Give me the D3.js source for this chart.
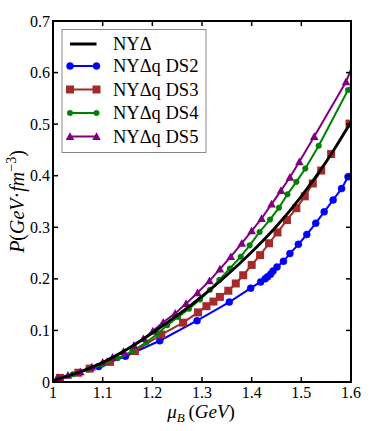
<!DOCTYPE html>
<html><head><meta charset="utf-8">
<script src="https://cdn.jsdelivr.net/npm/d3@7"></script>
<style>
html,body{margin:0;padding:0;background:#fff;}
svg{display:block;}
</style></head>
<body>
<svg id="chart" width="374" height="431" font-family="'Liberation Serif', 'DejaVu Serif', serif"></svg>
<script>
// ---- data ----
const xTicks = [1.0, 1.1, 1.2, 1.3, 1.4, 1.5, 1.6];
const xTickLabels = ["1", "1.1", "1.2", "1.3", "1.4", "1.5", "1.6"];
const yTicks = [0, 0.1, 0.2, 0.3, 0.4, 0.5, 0.6, 0.7];
const yTickLabels = ["0", "0.1", "0.2", "0.3", "0.4", "0.5", "0.6", "0.7"];

const nyMu = [1.00, 1.05, 1.10, 1.15, 1.20, 1.25, 1.30, 1.35, 1.40, 1.45, 1.50, 1.55, 1.60];
const nyP  = [0.003, 0.018, 0.038, 0.064, 0.095, 0.129, 0.166, 0.207, 0.252, 0.302, 0.360, 0.427, 0.504];

const ds2Mu = [1.012, 1.092, 1.146, 1.215, 1.290, 1.355, 1.398, 1.418, 1.427, 1.432, 1.438, 1.443, 1.451, 1.464, 1.477, 1.494, 1.511, 1.529, 1.546, 1.564, 1.581, 1.594, 1.600];
const ds2P  = [0.008, 0.030, 0.050, 0.080, 0.119, 0.155, 0.182, 0.194, 0.200, 0.204, 0.209, 0.215, 0.223, 0.234, 0.249, 0.267, 0.286, 0.308, 0.330, 0.353, 0.375, 0.398, 0.406];

const ds3Mu = [1.014, 1.051, 1.074, 1.115, 1.165, 1.218, 1.262, 1.292, 1.309, 1.323, 1.336, 1.353, 1.368, 1.383, 1.400, 1.417, 1.435, 1.452, 1.471, 1.490, 1.507, 1.523, 1.540, 1.560, 1.597, 1.600];
const ds3P  = [0.008, 0.018, 0.026, 0.039, 0.060, 0.092, 0.115, 0.135, 0.147, 0.156, 0.165, 0.177, 0.191, 0.207, 0.227, 0.246, 0.269, 0.290, 0.314, 0.337, 0.360, 0.385, 0.410, 0.442, 0.501, 0.506];

const ds4Mu = [1.012, 1.040, 1.070, 1.100, 1.130, 1.160, 1.188, 1.210, 1.230, 1.252, 1.274, 1.296, 1.316, 1.335, 1.356, 1.378, 1.396, 1.416, 1.437, 1.455, 1.472, 1.490, 1.508, 1.535, 1.594, 1.600];
const ds4P  = [0.008, 0.015, 0.024, 0.034, 0.046, 0.060, 0.077, 0.093, 0.110, 0.126, 0.142, 0.160, 0.179, 0.198, 0.220, 0.243, 0.265, 0.291, 0.315, 0.338, 0.364, 0.388, 0.414, 0.458, 0.566, 0.573];

const ds5Mu = [1.010, 1.030, 1.055, 1.078, 1.100, 1.120, 1.142, 1.163, 1.182, 1.201, 1.222, 1.246, 1.268, 1.291, 1.315, 1.336, 1.358, 1.380, 1.400, 1.420, 1.440, 1.459, 1.477, 1.496, 1.526, 1.590, 1.600];
const ds5P  = [0.008, 0.013, 0.020, 0.029, 0.038, 0.048, 0.059, 0.071, 0.084, 0.099, 0.116, 0.133, 0.152, 0.173, 0.196, 0.219, 0.243, 0.269, 0.293, 0.317, 0.345, 0.371, 0.397, 0.427, 0.476, 0.582, 0.606];

const seriesNames = ["NY\u0394", "NY\u0394q DS2", "NY\u0394q DS3", "NY\u0394q DS4", "NY\u0394q DS5"];
const seriesColors = ["#000000", "#0000ff", "#a52a2a", "#008000", "#800080"];
const seriesMarkers = ["none", "circle", "square", "smallcircle", "triangle"];

// ---- chart ----
const svg = d3.select("#chart");
const L = 53, R = 351, T = 21, B = 382;
const x = d3.scaleLinear().domain([1.0, 1.6]).range([L, R]);
const y = d3.scaleLinear().domain([0, 0.7]).range([B, T]);

svg.append("defs").append("clipPath").attr("id", "clip")
  .append("rect").attr("x", L).attr("y", T).attr("width", R - L).attr("height", B - T);

const series = [
  {mu: nyMu, p: nyP},
  {mu: ds2Mu, p: ds2P},
  {mu: ds3Mu, p: ds3P},
  {mu: ds4Mu, p: ds4P},
  {mu: ds5Mu, p: ds5P}
].map((s, i) => ({
  name: seriesNames[i], color: seriesColors[i], marker: seriesMarkers[i],
  pts: s.mu.map((m, j) => [m, s.p[j]])
}));

const plot = svg.append("g").attr("clip-path", "url(#clip)");

function drawMarker(g, type, cx, cy, color) {
  if (type === "circle") {
    g.append("circle").attr("cx", cx).attr("cy", cy).attr("r", 3.5).attr("fill", color).attr("stroke", color).attr("stroke-width", 0.5);
  } else if (type === "smallcircle") {
    g.append("circle").attr("cx", cx).attr("cy", cy).attr("r", 2.8).attr("fill", color).attr("stroke", color).attr("stroke-width", 0.5);
  } else if (type === "square") {
    g.append("rect").attr("x", cx - 4).attr("y", cy - 4).attr("width", 8).attr("height", 8).attr("fill", color);
  } else if (type === "triangle") {
    const s = 4.3;
    g.append("path").attr("d", `M${cx},${cy - s}L${cx + s},${cy + s * 0.8}L${cx - s},${cy + s * 0.8}Z`).attr("fill", color);
  }
}

const order = [1, 2, 3, 4, 0];
order.forEach(i => {
  const s = series[i];
  const line = d3.line().x(d => x(d[0])).y(d => y(d[1]))
    .curve(i === 0 ? d3.curveMonotoneX : d3.curveLinear);
  plot.append("path").datum(s.pts).attr("d", line)
    .attr("fill", "none").attr("stroke", s.color).attr("stroke-width", i === 0 ? 2.8 : 2);
  if (s.marker !== "none") {
    const mg = plot.append("g");
    // the final point is where the line meets the frame; it carries no marker
    s.pts.slice(0, -1).forEach(d => drawMarker(mg, s.marker, x(d[0]), y(d[1]), s.color));
  }
});

// frame
svg.append("rect").attr("x", L).attr("y", T).attr("width", R - L).attr("height", B - T)
  .attr("fill", "none").attr("stroke", "#000").attr("stroke-width", 2);

// ticks (inward, all sides)
const tk = svg.append("g").attr("stroke", "#000").attr("stroke-width", 1.5);
xTicks.forEach(v => {
  tk.append("line").attr("x1", x(v)).attr("x2", x(v)).attr("y1", B).attr("y2", B - 5);
  tk.append("line").attr("x1", x(v)).attr("x2", x(v)).attr("y1", T).attr("y2", T + 5);
});
yTicks.forEach(v => {
  tk.append("line").attr("x1", L).attr("x2", L + 5).attr("y1", y(v)).attr("y2", y(v));
  tk.append("line").attr("x1", R).attr("x2", R - 5).attr("y1", y(v)).attr("y2", y(v));
});

xTicks.forEach((v, i) => {
  svg.append("text").attr("x", x(v)).attr("y", B + 15.5).attr("text-anchor", "middle")
    .attr("font-size", 16).text(xTickLabels[i]);
});
yTicks.forEach((v, i) => {
  svg.append("text").attr("x", L - 3).attr("y", y(v) + 5.5).attr("text-anchor", "end")
    .attr("font-size", 16).text(yTickLabels[i]);
});

// axis labels
const xl = svg.append("text").attr("x", (L + R) / 2 - 1).attr("y", 418).attr("text-anchor", "middle").attr("font-size", 19);
xl.append("tspan").attr("font-style", "italic").text("\u03bc");
xl.append("tspan").attr("font-style", "italic").attr("font-size", 13).attr("dy", 4).text("B");
xl.append("tspan").attr("dy", -4).text("\u2009(");
xl.append("tspan").attr("font-style", "italic").text("GeV");
xl.append("tspan").text(")");

const yl = svg.append("text").attr("transform", `translate(24,${(T + B) / 2}) rotate(-90)`)
  .attr("text-anchor", "middle").attr("font-size", 20);
yl.append("tspan").attr("font-style", "italic").text("P");
yl.append("tspan").text("(");
yl.append("tspan").attr("font-style", "italic").text("GeV");
yl.append("tspan").text("\u00b7");
yl.append("tspan").attr("font-style", "italic").text("fm");
yl.append("tspan").attr("font-size", 14).attr("dy", -8).text("\u22123");
yl.append("tspan").attr("dy", 8).text(")");

// legend
const lg = svg.append("g");
lg.append("rect").attr("x", 62).attr("y", 29.5).attr("width", 144).attr("height", 123)
  .attr("fill", "#fff").attr("stroke", "#888").attr("stroke-width", 1);
const rowY = [44, 66, 89.5, 113, 136.5];
series.forEach((s, i) => {
  const yy = rowY[i];
  lg.append("line").attr("x1", 70).attr("x2", 96.5).attr("y1", yy).attr("y2", yy)
    .attr("stroke", s.color).attr("stroke-width", i === 0 ? 3 : 2);
  if (s.marker !== "none") {
    drawMarker(lg, s.marker, 70, yy, s.color);
    drawMarker(lg, s.marker, 96.5, yy, s.color);
  }
  lg.append("text").attr("x", 113).attr("y", yy + 6).attr("font-size", 18.5).text(s.name);
});
</script>
</body></html>
